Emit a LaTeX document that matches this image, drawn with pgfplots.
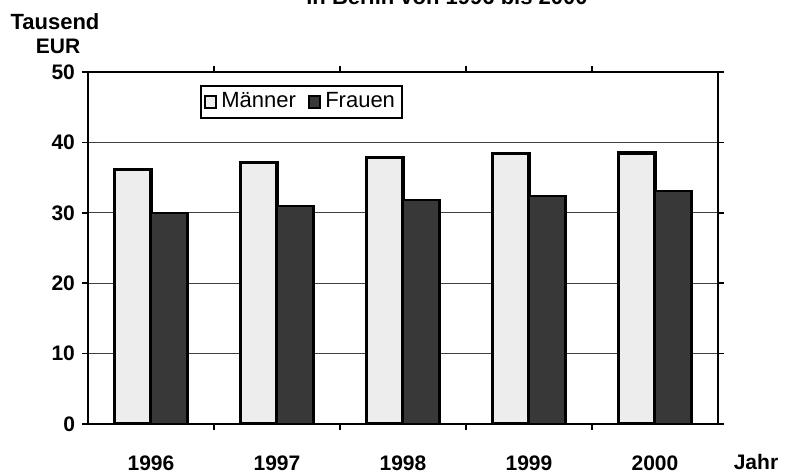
\documentclass[border=0pt]{standalone}
\usepackage{fontspec}
\setmainfont{Liberation Sans}
\usepackage{pgfplots}
\pgfplotsset{compat=1.18}
\definecolor{men}{HTML}{EDEDED}
\definecolor{women}{HTML}{383838}
\begin{document}
\begin{tikzpicture}
\begin{axis}[
  at={(0,0)}, anchor=south west,
  scale only axis, width=315pt, height=176pt,
  xmin=-0.5, xmax=4.5, ymin=0, ymax=50,
  ytick={0,10,...,50},
  xtick={0,1,2,3,4},
  xticklabels={1996,1997,1998,1999,2000},
  minor xtick={0.5,1.5,2.5,3.5},
  major x tick style={draw=none},
  tick align=outside,
  tick style={black, line width=0.8pt},
  major tick length=3pt, minor tick length=3pt,
  ymajorgrids, grid style={black!75, line width=0.6pt},
  axis line style={black, line width=1pt},
  /pgf/number format/assume math mode=true,
  y tick label style={font=\bfseries\fontsize{10.5}{12}\selectfont},
  x tick label style={font=\bfseries\fontsize{10.5}{12}\selectfont, anchor=base, yshift=-20.5pt},
  ybar, bar width=0.29,
  legend style={at={(rel axis cs:0.178,0.963)}, anchor=north west, legend columns=2,
    draw=black, line width=0.8pt, font=\fontsize{11}{13}\selectfont, inner sep=1.5pt,
    /tikz/every even column/.append style={column sep=4pt}},
  legend image code/.code={\draw[#1, line width=1pt] (0cm,-0.1cm) rectangle (0.2cm,0.1cm);},
]
\addplot[fill=men, draw=black, line width=1.6pt, bar shift=-0.145] coordinates {(0,36.2) (1,37.1) (2,37.9) (3,38.4) (4,38.5)};
\addplot[fill=women, draw=black, line width=1.2pt, bar shift=0.145] coordinates {(0,30.0) (1,31.0) (2,31.8) (3,32.4) (4,33.1)};
\legend{Männer, Frauen}
\end{axis}
\node[font=\bfseries\fontsize{11}{13}\selectfont, anchor=base] at (179.5pt,209.5pt) {in Berlin von 1996 bis 2000};
\node[font=\bfseries\fontsize{11}{13}\selectfont] at (-16.5pt,201pt) {Tausend};
\node[font=\bfseries\fontsize{10.5}{12}\selectfont] at (-15pt,189pt) {EUR};
\node[font=\bfseries\fontsize{10.5}{12}\selectfont, anchor=base] at (334pt,-23pt) {Jahr};
\pgfresetboundingbox
\useasboundingbox (-44pt,-25.25pt) rectangle (350.5pt,212pt);
\end{tikzpicture}
\end{document}
